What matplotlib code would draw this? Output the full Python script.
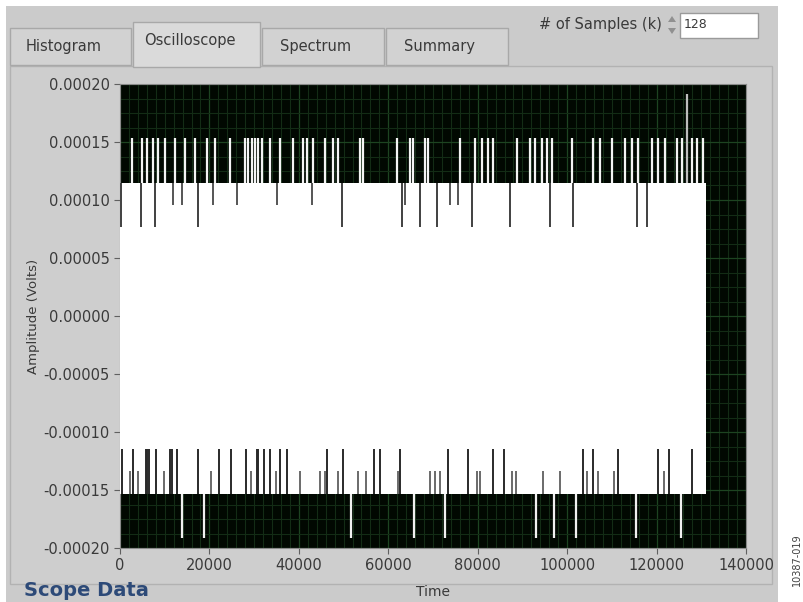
import numpy as np
import matplotlib
matplotlib.use("Agg")
import matplotlib.pyplot as plt
from matplotlib.patches import Rectangle, Polygon
from matplotlib.ticker import MultipleLocator, FormatStrFormatter

# ---------------- data ----------------
n_samples = 131072           # 128k samples
lsb = 0.0000383              # quantisation step in volts
band_hi = 3 * lsb            # solid white band top
band_lo = -4 * lsb           # solid white band bottom

# white spikes above the band reaching +4 LSB
top_spikes = [2600, 4850, 5970, 7450, 8560, 10060, 12300, 14540, 16770, 19390,
              21250, 24600, 27950, 28690, 29450, 30190, 30930, 31690, 33550,
              35780, 38760, 40990, 41750, 43230, 45850, 47700, 48820, 53670,
              54410, 61880, 64860, 65590, 68210, 68950, 76040, 79390, 80890,
              82370, 83490, 88720, 91690, 92810, 94310, 95430, 96550, 101020,
              105850, 107350, 109960, 112940, 114440, 115910, 118910, 120390,
              121880, 124500, 125620, 127850, 128970, 130450]
tall_spikes = [126740]       # reaches +5 LSB
# dark dips from +3 LSB down to +2 LSB
top_dips = [300, 4700, 7830, 17510, 49580, 63000, 67090, 70830, 78650, 87220,
            96170, 101380, 115550, 117790]
top_dips_short = [11920, 13800, 20870, 26100, 35050, 42870, 63740, 73800, 75660]
# dark gaps from -4 LSB up to -3 LSB
bot_gaps = [430, 2910, 5730, 6150, 6580, 8120, 11290, 11720, 12750, 17380,
            22160, 24730, 28250, 30550, 30970, 32270, 33550, 35850, 37390,
            46380, 49810, 56830, 58100, 62640, 73350, 77800, 83440, 85920,
            103480, 105870, 111440, 120410, 122820, 127940]
bot_gaps_short = [2130, 4030, 9750, 20440, 29280, 34820, 40210, 44840, 45780,
                  48690, 53230, 54950, 62220, 69240, 70360, 71630, 79750, 80440,
                  87710, 88580, 94580, 98430, 104330, 106900, 110570, 121710]
# white spikes below the band reaching -5 LSB
bot_spikes = [13870, 18790, 51660, 65640, 72680, 93040, 97060, 101980, 115400,
              125460]

W, H = 804, 602


def fx(px):
    return px / W


def fy(py):
    return 1 - py / H


def box(x0, y0, x1, y1, **kw):
    # rectangle in screen pixels (y down), kept behind the graph
    fig.patches.append(Rectangle((fx(x0), fy(y1)), fx(x1) - fx(x0), fy(y0) - fy(y1),
                                 transform=fig.transFigure, zorder=-5, **kw))


fig = plt.figure(figsize=(W / 100, H / 100), dpi=100)
fig.patch.set_facecolor("white")
plt.rcParams["font.family"] = ["DejaVu Sans"]
txt = "#3a3a3a"

# ---------------- panel chrome ----------------
box(6, 6, 778, 602, fc="#cbcbcb", ec="none")
box(10, 66, 772, 584, fc="#cecece", ec="#b2b2b2", lw=1)

tabs = [("Histogram", 10, 131, False), ("Oscilloscope", 133, 260, True),
        ("Spectrum", 262, 384, False), ("Summary", 386, 508, False)]
for name, x0, x1, sel in tabs:
    top = 22 if sel else 28
    bot = 67 if sel else 65
    box(x0, top, x1, bot, fc="#dadada" if sel else "#d2d2d2", ec="#a8a8a8", lw=1)
    fig.text(fx((x0 + x1) / 2 - 7), fy(top + 19), name, ha="center", va="center",
             fontsize=10.5, color=txt)

fig.text(fx(662), fy(24), "# of Samples (k)", ha="right", va="center",
         fontsize=10.5, color=txt)
fig.patches.append(Polygon([(fx(668), fy(22)), (fx(676), fy(22)), (fx(672), fy(16))],
                           closed=True, transform=fig.transFigure, fc="#909090"))
fig.patches.append(Polygon([(fx(668), fy(28)), (fx(676), fy(28)), (fx(672), fy(34))],
                           closed=True, transform=fig.transFigure, fc="#909090"))
box(680, 13, 758, 38, fc="white", ec="#9a9a9a", lw=1)
fig.text(fx(684), fy(25), "128", ha="left", va="center", fontsize=9,
         color=txt)

fig.text(fx(24), fy(590), "Scope Data", ha="left", va="center", fontsize=14,
         fontweight="bold", color="#2d4a78")
fig.text(fx(797), fy(560), "10387-019", ha="center", va="center", fontsize=7,
         rotation=90, color="#404040")

# ---------------- scope graph ----------------
ax = fig.add_axes([fx(120), fy(548), fx(746) - fx(120), fy(84) - fy(548)])
ax.set_facecolor("#010801")
ax.set_xlim(0, 140000)
ax.set_ylim(-0.0002, 0.0002)
ax.xaxis.set_major_locator(MultipleLocator(20000))
ax.xaxis.set_minor_locator(MultipleLocator(2000))
ax.yaxis.set_major_locator(MultipleLocator(0.00005))
ax.yaxis.set_minor_locator(MultipleLocator(0.0000125))
ax.yaxis.set_major_formatter(FormatStrFormatter("%.5f"))
ax.grid(which="minor", color="#132c15", lw=0.8)
ax.grid(which="major", color="#1d4421", lw=0.9)
ax.set_axisbelow(True)

ax.fill_between([0, n_samples], band_lo, band_hi, color="white", lw=0, zorder=3)
ax.vlines(top_spikes, band_hi, 4 * lsb, color="#f4f4f4", lw=1.6, zorder=3)
ax.vlines(tall_spikes, band_hi, 5 * lsb, color="#bdbdbd", lw=1.6, zorder=3)
ax.vlines(top_dips, 2 * lsb, band_hi, color="#404040", lw=1.4, zorder=4)
ax.vlines(top_dips_short, 2.5 * lsb, band_hi, color="#555555", lw=1.4, zorder=4)
ax.vlines(bot_gaps, band_lo, -3 * lsb, color="#2a2a2a", lw=1.4, zorder=4)
ax.vlines(bot_gaps_short, band_lo, -3.5 * lsb, color="#6a6a6a", lw=1.4, zorder=4)
ax.vlines(bot_spikes, -5 * lsb, band_lo, color="#f0f0f0", lw=1.6, zorder=3)

for s in ax.spines.values():
    s.set_color("#8a8a8a")
ax.tick_params(which="major", direction="out", length=4, color="#606060",
               labelsize=10.5, labelcolor=txt)
ax.tick_params(which="minor", length=0)
ax.set_xlabel("Time", fontsize=10, color=txt, labelpad=8)
ax.set_ylabel("Amplitude (Volts)", fontsize=9.5, color=txt, labelpad=2)

fig.savefig("out.png", dpi=100, facecolor=fig.get_facecolor())
